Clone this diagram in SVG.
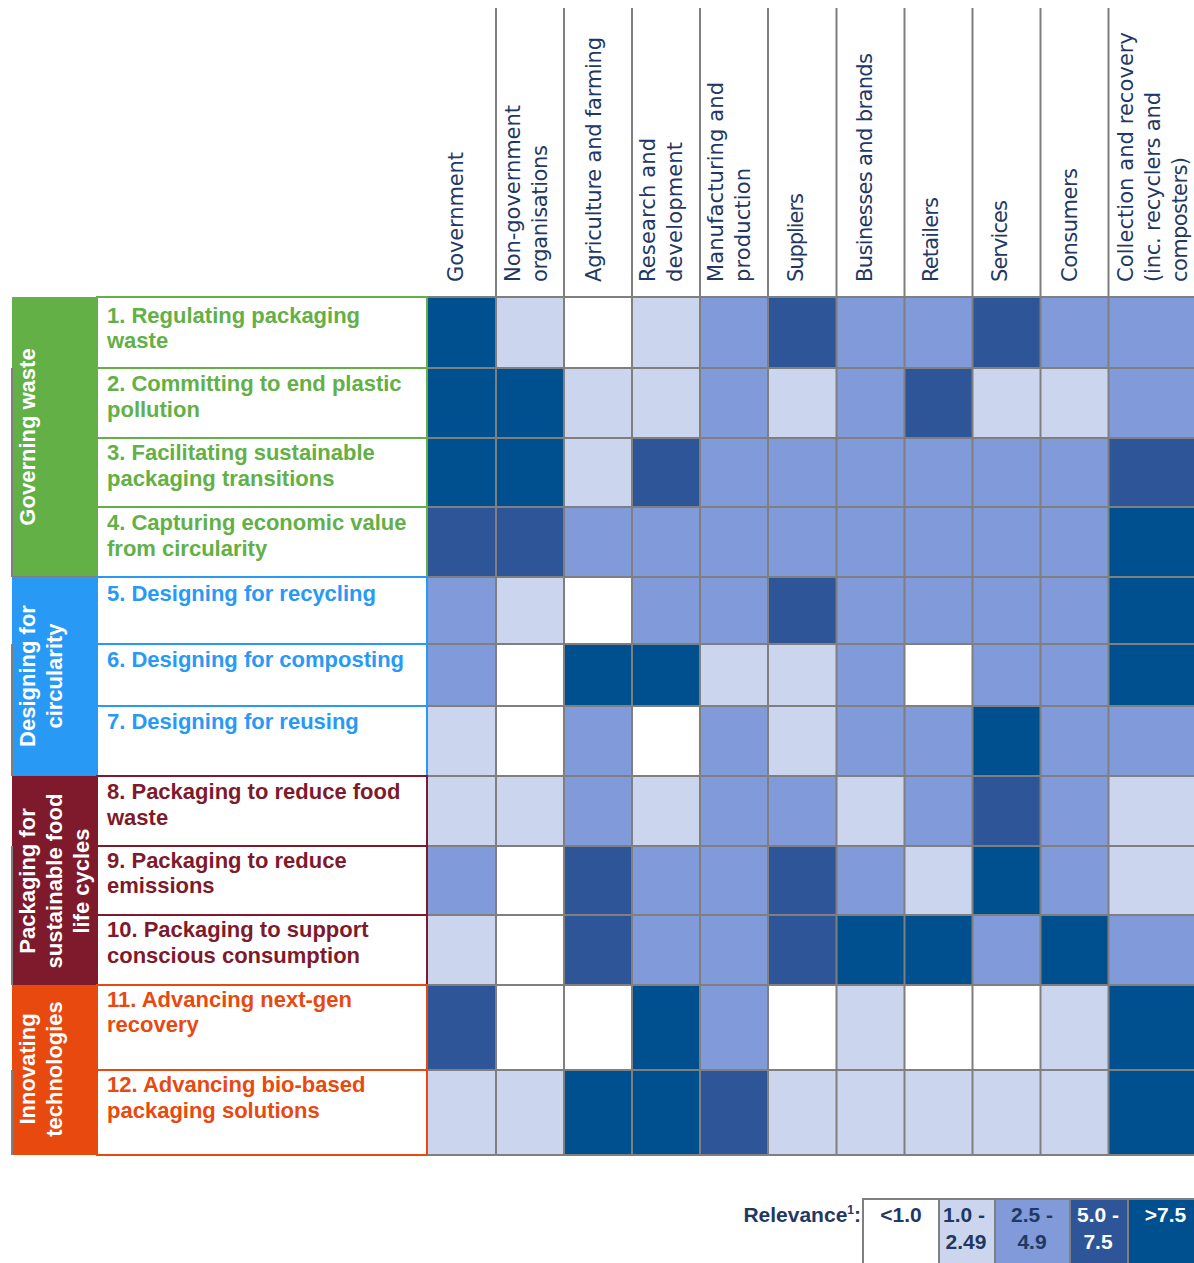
<svg xmlns="http://www.w3.org/2000/svg" width="1194" height="1263" viewBox="0 0 1194 1263">
<style>
.hd{font-family:"DejaVu Sans","Liberation Sans",sans-serif;font-size:21px;fill:#1f3864}
.lb{font-family:"Liberation Sans",Arial,sans-serif;font-size:22px;font-weight:bold}
.cat{font-family:"Liberation Sans",Arial,sans-serif;font-size:22px;font-weight:bold;fill:#ffffff}
.lg{font-family:"Liberation Sans",Arial,sans-serif;font-size:21px;font-weight:bold;fill:#1f3864}
.lgw{font-family:"Liberation Sans",Arial,sans-serif;font-size:21px;font-weight:bold;fill:#ffffff}
.g{fill:#62b046}.b{fill:#2899f5}.r{fill:#7e1a2b}.o{fill:#e8490f}
.tg{fill:#62b046}.tb{fill:#2899f5}.tr{fill:#7e1a2b}.to{fill:#e8490f}
.cg{fill:#fff;stroke:#62b046;stroke-width:2}
.cb{fill:#fff;stroke:#2899f5;stroke-width:2}
.cr{fill:#fff;stroke:#7e1a2b;stroke-width:2}
.co{fill:#fff;stroke:#e8490f;stroke-width:2}
.l0{fill:#ffffff}.l1{fill:#cbd6ee}.l2{fill:#809ada}.l3{fill:#2e5597}.l4{fill:#00508f}
.gl{stroke:#7f7f7f;stroke-width:2;fill:none}
</style>

<g id="header">
<g transform="translate(463,282) rotate(-90)"><text class="hd" textLength="130">Government</text></g>
<g transform="translate(520,282) rotate(-90)"><text class="hd" textLength="177">Non-government</text></g>
<g transform="translate(547,282) rotate(-90)"><text class="hd" textLength="137">organisations</text></g>
<g transform="translate(601,282) rotate(-90)"><text class="hd" textLength="245">Agriculture and farming</text></g>
<g transform="translate(655,282) rotate(-90)"><text class="hd" textLength="144">Research and</text></g>
<g transform="translate(682,282) rotate(-90)"><text class="hd" textLength="140">development</text></g>
<g transform="translate(723,282) rotate(-90)"><text class="hd" textLength="200">Manufacturing and</text></g>
<g transform="translate(750,282) rotate(-90)"><text class="hd" textLength="114">production</text></g>
<g transform="translate(803,282) rotate(-90)"><text class="hd" textLength="89">Suppliers</text></g>
<g transform="translate(872,282) rotate(-90)"><text class="hd" textLength="229">Businesses and brands</text></g>
<g transform="translate(938,282) rotate(-90)"><text class="hd" textLength="85">Retailers</text></g>
<g transform="translate(1007,282) rotate(-90)"><text class="hd" textLength="82">Services</text></g>
<g transform="translate(1077,282) rotate(-90)"><text class="hd" textLength="114">Consumers</text></g>
<g transform="translate(1133,282) rotate(-90)"><text class="hd" textLength="250">Collection and recovery</text></g>
<g transform="translate(1160,282) rotate(-90)"><text class="hd" textLength="190">(inc. recyclers and</text></g>
<g transform="translate(1187,282) rotate(-90)"><text class="hd" textLength="125">composters)</text></g>
</g>

<g id="cells">
<!-- row 1 y297 h71 -->
<rect class="l4" x="428" y="297" width="68" height="71"/><rect class="l1" x="496" y="297" width="68" height="71"/><rect class="l0" x="564" y="297" width="68" height="71"/><rect class="l1" x="632" y="297" width="68" height="71"/><rect class="l2" x="700" y="297" width="68" height="71"/><rect class="l3" x="768" y="297" width="68.5" height="71"/><rect class="l2" x="836.5" y="297" width="68" height="71"/><rect class="l2" x="904.5" y="297" width="68" height="71"/><rect class="l3" x="972.5" y="297" width="68" height="71"/><rect class="l2" x="1040.5" y="297" width="68" height="71"/><rect class="l2" x="1108.5" y="297" width="85.5" height="71"/>
<!-- row 2 y368 h70 -->
<rect class="l4" x="428" y="368" width="68" height="70"/><rect class="l4" x="496" y="368" width="68" height="70"/><rect class="l1" x="564" y="368" width="68" height="70"/><rect class="l1" x="632" y="368" width="68" height="70"/><rect class="l2" x="700" y="368" width="68" height="70"/><rect class="l1" x="768" y="368" width="68.5" height="70"/><rect class="l2" x="836.5" y="368" width="68" height="70"/><rect class="l3" x="904.5" y="368" width="68" height="70"/><rect class="l1" x="972.5" y="368" width="68" height="70"/><rect class="l1" x="1040.5" y="368" width="68" height="70"/><rect class="l2" x="1108.5" y="368" width="85.5" height="70"/>
<!-- row 3 y438 h69 -->
<rect class="l4" x="428" y="438" width="68" height="69"/><rect class="l4" x="496" y="438" width="68" height="69"/><rect class="l1" x="564" y="438" width="68" height="69"/><rect class="l3" x="632" y="438" width="68" height="69"/><rect class="l2" x="700" y="438" width="68" height="69"/><rect class="l2" x="768" y="438" width="68.5" height="69"/><rect class="l2" x="836.5" y="438" width="68" height="69"/><rect class="l2" x="904.5" y="438" width="68" height="69"/><rect class="l2" x="972.5" y="438" width="68" height="69"/><rect class="l2" x="1040.5" y="438" width="68" height="69"/><rect class="l3" x="1108.5" y="438" width="85.5" height="69"/>
<!-- row 4 y507 h70 -->
<rect class="l3" x="428" y="507" width="68" height="70"/><rect class="l3" x="496" y="507" width="68" height="70"/><rect class="l2" x="564" y="507" width="68" height="70"/><rect class="l2" x="632" y="507" width="68" height="70"/><rect class="l2" x="700" y="507" width="68" height="70"/><rect class="l2" x="768" y="507" width="68.5" height="70"/><rect class="l2" x="836.5" y="507" width="68" height="70"/><rect class="l2" x="904.5" y="507" width="68" height="70"/><rect class="l2" x="972.5" y="507" width="68" height="70"/><rect class="l2" x="1040.5" y="507" width="68" height="70"/><rect class="l4" x="1108.5" y="507" width="85.5" height="70"/>
<!-- row 5 y577 h67 -->
<rect class="l2" x="428" y="577" width="68" height="67"/><rect class="l1" x="496" y="577" width="68" height="67"/><rect class="l0" x="564" y="577" width="68" height="67"/><rect class="l2" x="632" y="577" width="68" height="67"/><rect class="l2" x="700" y="577" width="68" height="67"/><rect class="l3" x="768" y="577" width="68.5" height="67"/><rect class="l2" x="836.5" y="577" width="68" height="67"/><rect class="l2" x="904.5" y="577" width="68" height="67"/><rect class="l2" x="972.5" y="577" width="68" height="67"/><rect class="l2" x="1040.5" y="577" width="68" height="67"/><rect class="l4" x="1108.5" y="577" width="85.5" height="67"/>
<!-- row 6 y644 h62 -->
<rect class="l2" x="428" y="644" width="68" height="62"/><rect class="l0" x="496" y="644" width="68" height="62"/><rect class="l4" x="564" y="644" width="68" height="62"/><rect class="l4" x="632" y="644" width="68" height="62"/><rect class="l1" x="700" y="644" width="68" height="62"/><rect class="l1" x="768" y="644" width="68.5" height="62"/><rect class="l2" x="836.5" y="644" width="68" height="62"/><rect class="l0" x="904.5" y="644" width="68" height="62"/><rect class="l2" x="972.5" y="644" width="68" height="62"/><rect class="l2" x="1040.5" y="644" width="68" height="62"/><rect class="l4" x="1108.5" y="644" width="85.5" height="62"/>
<!-- row 7 y706 h70 -->
<rect class="l1" x="428" y="706" width="68" height="70"/><rect class="l0" x="496" y="706" width="68" height="70"/><rect class="l2" x="564" y="706" width="68" height="70"/><rect class="l0" x="632" y="706" width="68" height="70"/><rect class="l2" x="700" y="706" width="68" height="70"/><rect class="l1" x="768" y="706" width="68.5" height="70"/><rect class="l2" x="836.5" y="706" width="68" height="70"/><rect class="l2" x="904.5" y="706" width="68" height="70"/><rect class="l4" x="972.5" y="706" width="68" height="70"/><rect class="l2" x="1040.5" y="706" width="68" height="70"/><rect class="l2" x="1108.5" y="706" width="85.5" height="70"/>
<!-- row 8 y776 h70 -->
<rect class="l1" x="428" y="776" width="68" height="70"/><rect class="l1" x="496" y="776" width="68" height="70"/><rect class="l2" x="564" y="776" width="68" height="70"/><rect class="l1" x="632" y="776" width="68" height="70"/><rect class="l2" x="700" y="776" width="68" height="70"/><rect class="l2" x="768" y="776" width="68.5" height="70"/><rect class="l1" x="836.5" y="776" width="68" height="70"/><rect class="l2" x="904.5" y="776" width="68" height="70"/><rect class="l3" x="972.5" y="776" width="68" height="70"/><rect class="l2" x="1040.5" y="776" width="68" height="70"/><rect class="l1" x="1108.5" y="776" width="85.5" height="70"/>
<!-- row 9 y846 h69 -->
<rect class="l2" x="428" y="846" width="68" height="69"/><rect class="l0" x="496" y="846" width="68" height="69"/><rect class="l3" x="564" y="846" width="68" height="69"/><rect class="l2" x="632" y="846" width="68" height="69"/><rect class="l2" x="700" y="846" width="68" height="69"/><rect class="l3" x="768" y="846" width="68.5" height="69"/><rect class="l2" x="836.5" y="846" width="68" height="69"/><rect class="l1" x="904.5" y="846" width="68" height="69"/><rect class="l4" x="972.5" y="846" width="68" height="69"/><rect class="l2" x="1040.5" y="846" width="68" height="69"/><rect class="l1" x="1108.5" y="846" width="85.5" height="69"/>
<!-- row 10 y915 h70 -->
<rect class="l1" x="428" y="915" width="68" height="70"/><rect class="l0" x="496" y="915" width="68" height="70"/><rect class="l3" x="564" y="915" width="68" height="70"/><rect class="l2" x="632" y="915" width="68" height="70"/><rect class="l2" x="700" y="915" width="68" height="70"/><rect class="l3" x="768" y="915" width="68.5" height="70"/><rect class="l4" x="836.5" y="915" width="68" height="70"/><rect class="l4" x="904.5" y="915" width="68" height="70"/><rect class="l2" x="972.5" y="915" width="68" height="70"/><rect class="l4" x="1040.5" y="915" width="68" height="70"/><rect class="l2" x="1108.5" y="915" width="85.5" height="70"/>
<!-- row 11 y985 h85 -->
<rect class="l3" x="428" y="985" width="68" height="85"/><rect class="l0" x="496" y="985" width="68" height="85"/><rect class="l0" x="564" y="985" width="68" height="85"/><rect class="l4" x="632" y="985" width="68" height="85"/><rect class="l2" x="700" y="985" width="68" height="85"/><rect class="l0" x="768" y="985" width="68.5" height="85"/><rect class="l1" x="836.5" y="985" width="68" height="85"/><rect class="l0" x="904.5" y="985" width="68" height="85"/><rect class="l0" x="972.5" y="985" width="68" height="85"/><rect class="l1" x="1040.5" y="985" width="68" height="85"/><rect class="l4" x="1108.5" y="985" width="85.5" height="85"/>
<!-- row 12 y1070 h85 -->
<rect class="l1" x="428" y="1070" width="68" height="85"/><rect class="l1" x="496" y="1070" width="68" height="85"/><rect class="l4" x="564" y="1070" width="68" height="85"/><rect class="l4" x="632" y="1070" width="68" height="85"/><rect class="l3" x="700" y="1070" width="68" height="85"/><rect class="l1" x="768" y="1070" width="68.5" height="85"/><rect class="l1" x="836.5" y="1070" width="68" height="85"/><rect class="l1" x="904.5" y="1070" width="68" height="85"/><rect class="l1" x="972.5" y="1070" width="68" height="85"/><rect class="l1" x="1040.5" y="1070" width="68" height="85"/><rect class="l4" x="1108.5" y="1070" width="85.5" height="85"/>
</g>

<g id="gridlines" class="gl">
<path d="M428 297H1194M428 368H1194M428 438H1194M428 507H1194M428 577H1194M428 644H1194M428 706H1194M428 776H1194M428 846H1194M428 915H1194M428 985H1194M428 1070H1194M428 1155H1194"/>
<path d="M496 8V1155M564 8V1155M632 8V1155M700 8V1155M768 8V1155M836.5 8V1155M904.5 8V1155M972.5 8V1155M1040.5 8V1155M1108.5 8V1155"/>
</g>

<g id="cat-governing">
<rect class="g" x="12" y="297" width="85" height="280"/>
<path class="gl" d="M12 368V577M12 577H97"/>
<g transform="translate(35,437) rotate(-90)"><text class="cat" text-anchor="middle">Governing waste</text></g>
</g>
<g id="cat-designing">
<rect class="b" x="12" y="577" width="85" height="199"/>
<path class="gl" d="M12 644V776M12 776H97"/>
<g transform="translate(35,676) rotate(-90)"><text class="cat" text-anchor="middle">Designing for</text></g>
<g transform="translate(62,676) rotate(-90)"><text class="cat" text-anchor="middle">circularity</text></g>
</g>
<g id="cat-packaging">
<rect class="r" x="12" y="776" width="85" height="209"/>
<path class="gl" d="M12 846V985"/>
<g transform="translate(35,881) rotate(-90)"><text class="cat" text-anchor="middle">Packaging for</text></g>
<g transform="translate(62,881) rotate(-90)"><text class="cat" text-anchor="middle">sustainable food</text></g>
<g transform="translate(89,881) rotate(-90)"><text class="cat" text-anchor="middle">life cycles</text></g>
</g>
<g id="cat-innovating">
<rect class="o" x="12" y="985" width="85" height="170"/>
<path class="gl" d="M12 1070V1155"/>
<g transform="translate(35,1069) rotate(-90)"><text class="cat" text-anchor="middle">Innovating</text></g>
<g transform="translate(62,1069) rotate(-90)"><text class="cat" text-anchor="middle">technologies</text></g>
</g>

<g id="row1"><rect class="cg" x="97" y="297" width="330" height="71"/><text class="lb tg" x="107" y="322.7">1. Regulating packaging</text><text class="lb tg" x="107" y="347.7">waste</text></g>
<g id="row2"><rect class="cg" x="97" y="368" width="330" height="70"/><text class="lb tg" x="107" y="390.7">2. Committing to end plastic</text><text class="lb tg" x="107" y="416.7">pollution</text></g>
<g id="row3"><rect class="cg" x="97" y="438" width="330" height="69"/><text class="lb tg" x="107" y="460">3. Facilitating sustainable</text><text class="lb tg" x="107" y="485.7">packaging transitions</text></g>
<g id="row4"><rect class="cg" x="97" y="507" width="330" height="70"/><text class="lb tg" x="107" y="530">4. Capturing economic value</text><text class="lb tg" x="107" y="555.7">from circularity</text></g>
<g id="row5"><rect class="cb" x="97" y="577" width="330" height="67"/><text class="lb tb" x="107" y="600.7">5. Designing for recycling</text></g>
<g id="row6"><rect class="cb" x="97" y="644" width="330" height="62"/><text class="lb tb" x="107" y="667.3">6. Designing for composting</text></g>
<g id="row7"><rect class="cb" x="97" y="706" width="330" height="70"/><text class="lb tb" x="107" y="729.3">7. Designing for reusing</text></g>
<g id="row8"><rect class="cr" x="97" y="776" width="330" height="70"/><text class="lb tr" x="107" y="799.3">8. Packaging to reduce food</text><text class="lb tr" x="107" y="825.3">waste</text></g>
<g id="row9"><rect class="cr" x="97" y="846" width="330" height="69"/><text class="lb tr" x="107" y="867.7">9. Packaging to reduce</text><text class="lb tr" x="107" y="893.3">emissions</text></g>
<g id="row10"><rect class="cr" x="97" y="915" width="330" height="70"/><text class="lb tr" x="107" y="937.3">10. Packaging to support</text><text class="lb tr" x="107" y="963.3">conscious consumption</text></g>
<g id="row11"><rect class="co" x="97" y="985" width="330" height="85"/><text class="lb to" x="107" y="1006.7">11. Advancing next-gen</text><text class="lb to" x="107" y="1032.3">recovery</text></g>
<g id="row12"><rect class="co" x="97" y="1070" width="330" height="85"/><text class="lb to" x="107" y="1091.7">12. Advancing bio-based</text><text class="lb to" x="107" y="1117.7">packaging solutions</text></g>

<g id="legend">
<text class="lg" x="861" y="1222" text-anchor="end">Relevance<tspan font-size="12" dy="-8">1</tspan><tspan dy="8">:</tspan></text>
<rect class="l0" x="863" y="1199" width="76" height="64"/>
<rect class="l1" x="939" y="1199" width="56" height="64"/>
<rect class="l2" x="995" y="1199" width="75" height="64"/>
<rect class="l3" x="1070" y="1199" width="58" height="64"/>
<rect class="l4" x="1128" y="1199" width="66" height="64"/>
<path class="gl" d="M863 1263V1199H1194M939 1199V1263M995 1199V1263M1070 1199V1263M1128 1199V1263"/>
<text class="lg" x="901" y="1222" text-anchor="middle">&lt;1.0</text>
<text class="lg" x="964" y="1222" text-anchor="middle">1.0 -</text>
<text class="lg" x="966" y="1248.5" text-anchor="middle">2.49</text>
<text class="lg" x="1032" y="1222" text-anchor="middle">2.5 -</text>
<text class="lg" x="1032" y="1248.5" text-anchor="middle">4.9</text>
<text class="lgw" x="1098" y="1222" text-anchor="middle">5.0 -</text>
<text class="lgw" x="1098" y="1248.5" text-anchor="middle">7.5</text>
<text class="lgw" x="1165.5" y="1222" text-anchor="middle">&gt;7.5</text>
</g>
</svg>
